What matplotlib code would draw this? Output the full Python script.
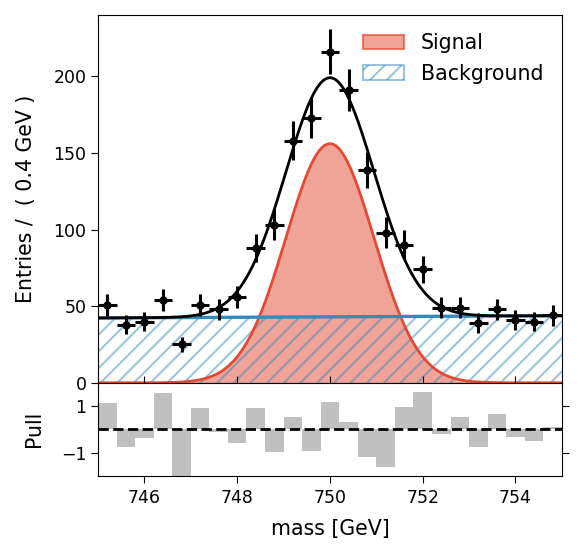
import numpy as np
import matplotlib
matplotlib.use("Agg")
import matplotlib.pyplot as plt
import matplotlib.patches as mpatches

# binned data (0.4 GeV bins from 745 to 755)
bin_lo = 745.0
bin_w = 0.4
counts = [51, 38, 40, 54, 25, 51, 48, 56, 88, 103, 158, 173, 216,
          191, 139, 98, 90, 74, 49, 49, 39, 48, 41, 40, 44]
pulls = [1.14, -0.74, -0.39, 1.55, -2.3, 0.90, -0.12, -0.57, 0.90, -0.96,
         0.55, -0.91, 1.16, 0.33, -1.17, -1.61, 0.94, 1.59, -0.20, 0.55,
         -0.74, 0.68, -0.33, -0.52, 0.10]

# fit parameters
sig_peak = 156.0
sig_mean = 750.0
sig_width = 0.95
bkg_level = 43.05
bkg_slope = 0.15

plt.rcParams['font.size'] = 12.5
plt.rcParams['hatch.linewidth'] = 1.5
big = 14.8

centers = bin_lo + bin_w * (np.arange(len(counts)) + 0.5)
counts = np.array(counts)
x = np.linspace(745, 755, 500)
sig = sig_peak * np.exp(-0.5 * ((x - sig_mean) / sig_width) ** 2)
bkg = bkg_level + bkg_slope * (x - 750)

fig = plt.figure(figsize=(5.84, 5.54), dpi=100)
ax = fig.add_axes([0.168, 0.309, 0.794, 0.664])
ax2 = fig.add_axes([0.168, 0.141, 0.794, 0.168], sharex=ax)

red = '#E24A33'
blue = '#348ABD'

ax.fill_between(x, 0, sig, color=red, alpha=0.5, lw=0)
ax.fill_between(x, 0, bkg, facecolor='none', edgecolor=blue, alpha=0.5, hatch='//', lw=0)
ax.plot(x, sig, color=red, lw=2)
ax.plot(x, bkg, color=blue, lw=2.4)
ax.plot(x, sig + bkg, color='black', lw=2)
ax.errorbar(centers, counts, xerr=bin_w / 2, yerr=np.sqrt(counts), fmt='o',
            color='black', ms=5, elinewidth=2.2, capsize=0)

ax.set_xlim(745, 755)
ax.set_ylim(0, 240)
ax.set_yticks([0, 50, 100, 150, 200])
ax.set_ylabel("Entries /  ( 0.4 GeV )", fontsize=big, labelpad=12.5)
ax.tick_params(labelbottom=False, length=4.8)

h_sig = mpatches.Patch(facecolor=(0.886, 0.29, 0.2, 0.5), edgecolor=(0.886, 0.29, 0.2, 0.7),
                       lw=1.5, label='Signal')
h_bkg = mpatches.Patch(facecolor='none', edgecolor=(0.204, 0.541, 0.741, 0.5),
                       hatch='//', lw=1.5, label='Background')
ax.legend(handles=[h_sig, h_bkg], loc='upper right', frameon=False, fontsize=big)

ax2.bar(centers, pulls, width=bin_w, color='#c0c0c0')
ax2.axhline(0, color='black', ls='--', lw=2)
ax2.set_ylim(-2, 2)
ax2.set_yticks([-1, 1])
ax2.set_ylabel("Pull", fontsize=big, labelpad=12)
ax2.set_xlabel("mass [GeV]", fontsize=big, labelpad=8)
ax2.set_xticks([746, 748, 750, 752, 754])
ax2.tick_params(top=True, right=True, length=4.8)
ax2.tick_params(axis='x', pad=5)

fig.savefig("out.png", dpi=100)
